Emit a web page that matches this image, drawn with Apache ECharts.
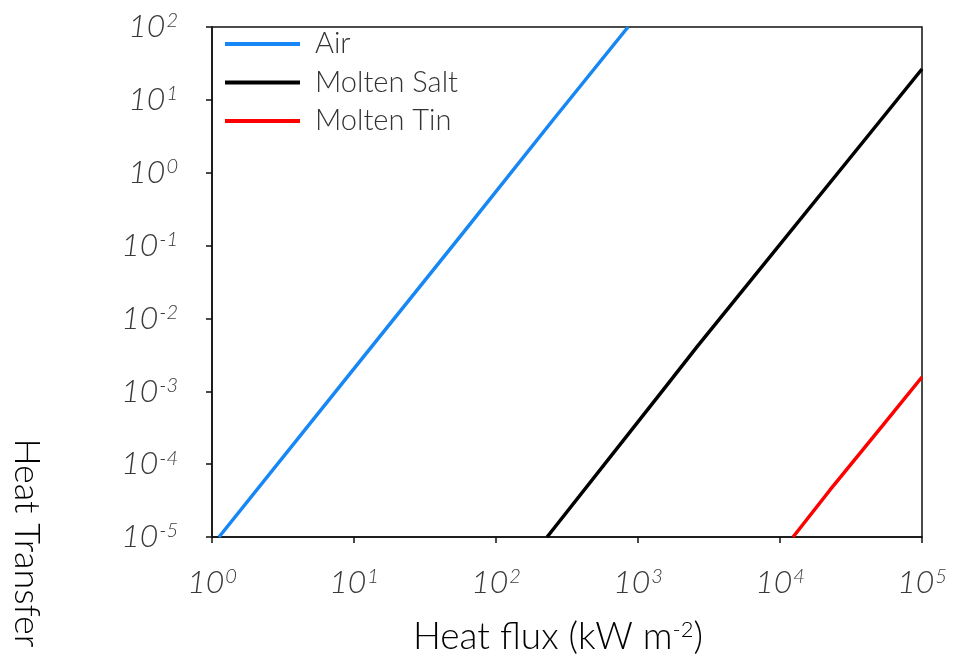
<!DOCTYPE html>
<html>
<head>
<meta charset="utf-8">
<script src="https://cdn.jsdelivr.net/npm/echarts@6/dist/echarts.min.js"></script>
<style>
  html, body { margin: 0; padding: 0; background: #fff; }
  #chart { width: 955px; height: 662px; }
</style>
</head>
<body>
<div id="chart"></div>
<script>
// Heat flux (kW m^-2) vs heat transfer, log-log
const seriesNames = ['Air', 'Molten Salt', 'Molten Tin'];

const airFlux = [1.12, 10.2, 58.6, 252, 851];
const airValues = [1e-5, 2.15e-3, 0.149, 5.29, 100];

const saltFlux = [229, 1500, 2600, 41000, 100000];
const saltValues = [1e-5, 1.04e-3, 4.06e-3, 3.09, 26.5];

const tinFlux = [12360, 22500, 53100, 100000];
const tinValues = [1e-5, 4.42e-5, 3.44e-4, 1.57e-3];

const xRange = [1, 1e5];
const yRange = [1e-5, 1e2];

const colors = ['#1787F5', '#000000', '#FF0000'];

const pairs = (xs, ys) => xs.map((x, i) => [x, ys[i]]);
const seriesData = [pairs(airFlux, airValues), pairs(saltFlux, saltValues), pairs(tinFlux, tinValues)];

const labelFont = 'Lato, "Open Sans", "DejaVu Sans", sans-serif';
const powerLabel = v => '{b|10}{s|' + Math.round(Math.log10(v)) + '}';
const powerRich = {
  b: { fontSize: 32, fontFamily: labelFont, fontStyle: 'italic', fontWeight: 300, color: '#3a3a3a' },
  s: { fontSize: 20, fontFamily: labelFont, fontStyle: 'italic', fontWeight: 300, color: '#3a3a3a', padding: [0, 0, 12, 1] }
};

const chart = echarts.init(document.getElementById('chart'), null, { renderer: 'canvas' });

chart.setOption({
  backgroundColor: '#ffffff',
  animation: false,
  grid: {
    left: 212, right: 33, top: 27, bottom: 125,
    show: true, borderColor: '#111', borderWidth: 1.5, backgroundColor: 'transparent'
  },
  legend: {
    orient: 'vertical',
    left: 225, top: 29,
    padding: 0,
    icon: 'rect',
    itemWidth: 75, itemHeight: 4, itemGap: 8.5,
    data: seriesNames,
    textStyle: {
      fontFamily: labelFont, fontWeight: 300, fontSize: 29, color: '#333',
      lineHeight: 30, padding: [0, 0, 0, 10]
    }
  },
  xAxis: {
    type: 'log', logBase: 10, min: xRange[0], max: xRange[1],
    splitNumber: 5,
    name: '{t|Heat flux (kW m}{u|-2}{t|)}',
    nameLocation: 'middle', nameGap: 82,
    nameTextStyle: {
      padding: [0, 18, 0, 0],
      rich: {
        t: { fontSize: 37, fontFamily: labelFont, fontWeight: 300, color: '#000' },
        u: { fontSize: 22, fontFamily: labelFont, fontWeight: 300, color: '#000', padding: [0, 0, 15, 0] }
      }
    },
    axisLine: { show: true, lineStyle: { color: '#111', width: 1.5 } },
    axisTick: { show: true, inside: false, length: 6, lineStyle: { color: '#111', width: 1.5 } },
    splitLine: { show: false },
    minorTick: { show: false },
    axisLabel: { margin: 30, formatter: powerLabel, rich: powerRich }
  },
  yAxis: {
    type: 'log', logBase: 10, min: yRange[0], max: yRange[1],
    splitNumber: 7,
    axisLine: { show: true, lineStyle: { color: '#111', width: 1.5 } },
    axisTick: { show: true, inside: false, length: 6, lineStyle: { color: '#111', width: 1.5 } },
    splitLine: { show: false },
    minorTick: { show: false },
    axisLabel: { margin: 34, formatter: powerLabel, rich: powerRich }
  },
  graphic: [{
    type: 'text',
    x: 27, y: 543,
    rotation: -Math.PI / 2,
    style: {
      text: 'Heat Transfer',
      font: '300 36px ' + labelFont,
      fill: '#000',
      align: 'center',
      verticalAlign: 'middle'
    }
  }],
  series: seriesNames.map((name, i) => ({
    name: name,
    type: 'line',
    data: seriesData[i],
    showSymbol: false,
    symbol: 'none',
    color: colors[i],
    lineStyle: { color: colors[i], width: 3.5 },
    clip: true
  }))
});
</script>
</body>
</html>
